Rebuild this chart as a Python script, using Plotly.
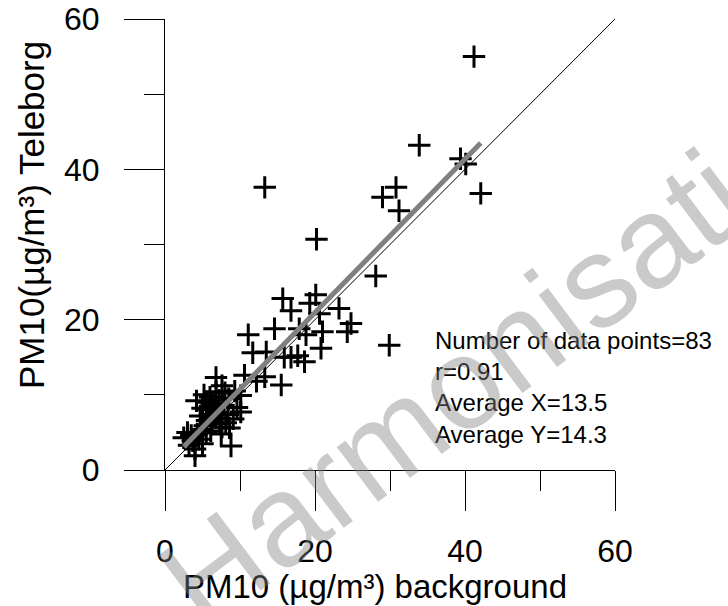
import plotly.graph_objects as go

# PM10 daily means (µg/m³): regional background station vs. Teleborg
background_x = [
    41.2, 33.9, 13.3, 39.4, 40.1, 42.1, 30.8, 29.0, 31.2, 20.2, 28.1, 29.9,
    15.7, 20.1, 19.3, 16.8, 20.6, 23.2, 24.8, 24.3, 14.6, 11.1, 17.9, 18.8,
    21.0, 20.8, 11.7, 13.5, 15.9, 16.8, 17.7, 18.6, 10.6, 13.3, 12.2, 15.5,
    6.8, 7.6, 10.1, 10.1, 9.1, 8.8, 4.2, 5.5, 6.0, 6.5, 7.0, 8.1,
    7.6, 6.3, 5.3, 3.0, 2.5, 3.7, 4.5, 4.0, 4.0, 5.5, 4.7, 6.0,
    5.0, 5.8, 6.2, 7.2, 7.8, 8.5, 8.0, 9.3, 6.8, 5.2, 3.5, 4.8,
    5.6, 6.8, 7.3, 8.4, 9.6, 3.2, 4.3, 5.0, 6.1, 7.5, 8.6,
]
teleborg_y = [
    55.0, 43.2, 37.6, 41.4, 40.7, 36.8, 37.6, 36.3, 34.5, 30.7, 25.8, 16.6,
    22.8, 23.3, 22.2, 21.2, 20.8, 21.5, 19.5, 18.4, 18.8, 18.0, 18.8, 18.0,
    18.4, 16.2, 15.6, 15.7, 15.0, 15.0, 15.2, 14.4, 12.6, 12.4, 11.8, 11.3,
    12.3, 11.2, 9.9, 7.7, 6.8, 3.2, 9.2, 9.0, 9.7, 8.5, 7.7, 6.3,
    5.7, 6.3, 5.9, 5.0, 4.3, 3.9, 4.1, 2.8, 1.9, 5.0, 7.2, 7.4,
    8.2, 8.0, 8.9, 9.3, 8.6, 9.5, 10.3, 10.5, 10.4, 10.0, 4.6, 5.4,
    6.6, 6.9, 6.2, 7.4, 8.3, 3.3, 4.8, 3.5, 5.2, 4.8, 5.6,
]

# Least-squares fit reported for the data set
fit_slope = 1.02
fit_intercept = 0.55

stats_lines = [
    "Number of data points=83",
    "r=0.91",
    "Average X=13.5",
    "Average Y=14.3",
]

major_ticks = [0, 20, 40, 60]
minor_ticks = [10, 30, 50]
axis_range = [0, 60]

FONT = "Liberation Sans, Arial, sans-serif"

fig = go.Figure()

fig.add_trace(go.Scatter(
    x=background_x, y=teleborg_y, mode="markers",
    marker=dict(symbol="cross-thin", size=16, line=dict(color="black", width=3)),
    showlegend=False, hoverinfo="skip",
))

# 1:1 reference line
fig.add_trace(go.Scatter(
    x=axis_range, y=axis_range, mode="lines",
    line=dict(color="black", width=1), showlegend=False, hoverinfo="skip",
))

# Regression line over the observed x span
x_lo, x_hi = min(background_x), max(background_x)
fig.add_trace(go.Scatter(
    x=[x_lo, x_hi],
    y=[fit_intercept + fit_slope * x_lo, fit_intercept + fit_slope * x_hi],
    mode="lines", line=dict(color="rgb(128,128,128)", width=5),
    showlegend=False, hoverinfo="skip",
))

axis_common = dict(
    range=axis_range, tickvals=major_ticks, ticktext=[str(v) for v in major_ticks],
    ticks="outside", ticklen=40, tickwidth=1, tickcolor="black",
    minor=dict(tickvals=minor_ticks, ticks="outside", ticklen=20,
               tickwidth=1, tickcolor="black", showgrid=False),
    showline=True, linecolor="black", linewidth=1,
    showgrid=False, zeroline=False,
    tickfont=dict(family=FONT, size=32, color="black"),
)

fig.update_xaxes(**axis_common, ticklabelstandoff=13)
fig.update_yaxes(**axis_common, ticklabelstandoff=18)

annotations = [
    dict(text="PM10 (µg/m³) background", xref="paper", yref="paper",
         x=0.467, y=-0.259, xanchor="center", yanchor="middle", showarrow=False,
         font=dict(family=FONT, size=33, color="black")),
    dict(text="PM10(µg/m³) Teleborg", xref="paper", yref="paper",
         x=-0.298, y=0.565, xanchor="center", yanchor="middle", textangle=-90,
         showarrow=False, font=dict(family=FONT, size=35, color="black")),
    dict(text="<br>".join(stats_lines), xref="paper", yref="paper",
         x=0.596, y=0.184, xanchor="left", yanchor="middle", align="left",
         showarrow=False, font=dict(family=FONT, size=24, color="black")),
    dict(text="10th Harmonisation", xref="paper", yref="paper",
         x=0.513, y=0.085, xanchor="center", yanchor="middle", textangle=-37,
         showarrow=False, font=dict(family=FONT, size=130, color="rgba(128,128,128,0.42)")),
]

fig.update_layout(
    width=728, height=606,
    margin=dict(l=165, r=113, t=19, b=136, autoexpand=False),
    paper_bgcolor="white", plot_bgcolor="white",
    annotations=annotations,
    showlegend=False,
)

fig.write_html("out.html")
